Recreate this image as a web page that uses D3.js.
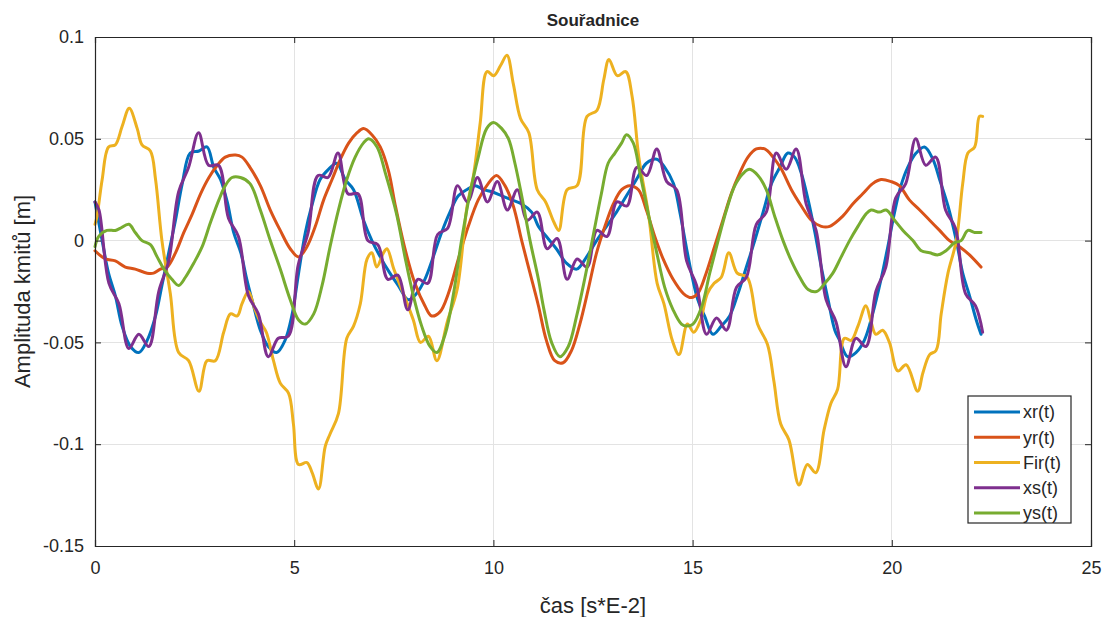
<!DOCTYPE html>
<html>
<head>
<meta charset="utf-8">
<script src="https://cdn.jsdelivr.net/npm/d3@7"></script>
<style>
html,body{margin:0;padding:0;background:#fff;}
svg{display:block;}
text{font-family:"Liberation Sans",Arial,Helvetica,sans-serif;fill:#262626;}
</style>
</head>
<body>
<svg id="chart" width="1107" height="617"></svg>
<script>
// ---- data ----
const xTicks = [0, 5, 10, 15, 20, 25];
const yTicks = [-0.15, -0.1, -0.05, 0, 0.05, 0.1];
const yTickLabels = ["-0.15", "-0.1", "-0.05", "0", "0.05", "0.1"];
const seriesNames = ["xr(t)", "yr(t)", "Fir(t)", "xs(t)", "ys(t)"];
const seriesColors = ["#0072BD", "#D95319", "#EDB120", "#7E2F8E", "#77AC30"];

const xr = [[0,0.019],[0.18,0.000],[0.34,-0.016],[0.51,-0.027],[0.68,-0.042],[0.89,-0.052],[1.10,-0.055],[1.31,-0.049],[1.52,-0.037],[1.68,-0.022],[1.85,-0.006],[2.02,0.010],[2.19,0.028],[2.39,0.043],[2.61,0.044],[2.81,0.046],[2.98,0.036],[3.15,0.030],[3.32,0.019],[3.48,0.004],[3.66,-0.006],[3.81,-0.019],[3.98,-0.032],[4.15,-0.044],[4.35,-0.052],[4.56,-0.055],[4.77,-0.049],[4.94,-0.037],[5.11,-0.016],[5.28,0.004],[5.44,0.017],[5.65,0.030],[5.86,0.035],[6.07,0.038],[6.28,0.030],[6.49,0.025],[6.74,0.010],[6.95,0.000],[7.16,-0.008],[7.37,-0.015],[7.61,-0.022],[7.86,-0.029],[8.07,-0.026],[8.28,-0.019],[8.49,-0.008],[8.70,0.004],[8.91,0.014],[9.12,0.022],[9.33,0.025],[9.54,0.027],[9.75,0.025],[9.96,0.024],[10.21,0.022],[10.46,0.020],[10.71,0.018],[10.96,0.014],[11.13,0.007],[11.33,0.002],[11.58,-0.004],[11.83,-0.011],[12.09,-0.014],[12.34,-0.008],[12.59,0.000],[12.84,0.007],[13.09,0.014],[13.34,0.022],[13.59,0.030],[13.84,0.038],[14.10,0.040],[14.30,0.036],[14.52,0.028],[14.68,0.014],[14.85,-0.004],[14.97,-0.016],[15.13,-0.029],[15.30,-0.037],[15.51,-0.046],[15.72,-0.042],[15.93,-0.037],[16.14,-0.026],[16.35,-0.013],[16.56,0.000],[16.77,0.014],[16.98,0.028],[17.19,0.036],[17.39,0.043],[17.56,0.041],[17.73,0.033],[17.90,0.020],[18.07,0.004],[18.23,-0.013],[18.40,-0.029],[18.57,-0.044],[18.69,-0.049],[18.89,-0.057],[19.10,-0.055],[19.31,-0.049],[19.52,-0.036],[19.73,-0.019],[19.90,-0.003],[20.07,0.014],[20.23,0.027],[20.40,0.036],[20.61,0.043],[20.82,0.046],[21.03,0.040],[21.20,0.030],[21.41,0.017],[21.62,0.000],[21.78,-0.016],[21.95,-0.027],[22.12,-0.039],[22.24,-0.046]];

const yr = [[0,-0.005],[0.26,-0.009],[0.51,-0.010],[0.76,-0.013],[1.01,-0.014],[1.31,-0.016],[1.47,-0.016],[1.64,-0.014],[1.81,-0.013],[2.02,-0.006],[2.23,0.004],[2.44,0.013],[2.65,0.023],[2.86,0.031],[3.07,0.037],[3.27,0.041],[3.53,0.042],[3.69,0.041],[3.89,0.036],[4.15,0.027],[4.40,0.015],[4.65,0.005],[4.90,-0.004],[5.11,-0.008],[5.32,-0.003],[5.53,0.007],[5.74,0.020],[5.95,0.030],[6.16,0.040],[6.37,0.048],[6.58,0.053],[6.74,0.055],[6.95,0.052],[7.16,0.046],[7.37,0.034],[7.53,0.018],[7.78,-0.004],[8.03,-0.021],[8.28,-0.032],[8.45,-0.037],[8.66,-0.035],[8.87,-0.026],[9.12,-0.009],[9.37,0.007],[9.62,0.020],[9.87,0.028],[10.08,0.032],[10.29,0.027],[10.50,0.017],[10.71,0.000],[10.92,-0.016],[11.13,-0.032],[11.33,-0.049],[11.54,-0.059],[11.75,-0.060],[11.96,-0.054],[12.17,-0.041],[12.38,-0.024],[12.59,-0.006],[12.80,0.007],[13.01,0.018],[13.22,0.025],[13.42,0.027],[13.64,0.025],[13.84,0.015],[14.05,0.002],[14.26,-0.009],[14.51,-0.019],[14.77,-0.026],[14.97,-0.028],[15.13,-0.026],[15.34,-0.016],[15.55,-0.003],[15.76,0.010],[15.97,0.023],[16.18,0.033],[16.39,0.041],[16.60,0.045],[16.81,0.045],[17.02,0.041],[17.23,0.035],[17.48,0.025],[17.73,0.017],[17.98,0.010],[18.23,0.007],[18.44,0.007],[18.77,0.012],[19.02,0.018],[19.27,0.023],[19.52,0.028],[19.73,0.030],[19.98,0.029],[20.19,0.027],[20.44,0.020],[20.70,0.015],[20.95,0.010],[21.20,0.005],[21.45,0.000],[21.70,-0.003],[21.95,-0.007],[22.24,-0.013]];

const fir = [[0,0.008],[0.05,0.012],[0.18,0.030],[0.34,0.046],[0.51,0.047],[0.68,0.056],[0.86,0.065],[1.06,0.055],[1.18,0.047],[1.39,0.044],[1.52,0.030],[1.68,0.000],[1.89,-0.026],[2.10,-0.055],[2.35,-0.059],[2.61,-0.074],[2.81,-0.059],[3.02,-0.059],[3.23,-0.045],[3.40,-0.036],[3.57,-0.037],[3.69,-0.031],[3.85,-0.025],[4.00,-0.033],[4.15,-0.040],[4.30,-0.045],[4.48,-0.059],[4.65,-0.070],[4.86,-0.075],[4.98,-0.090],[5.11,-0.110],[5.32,-0.109],[5.45,-0.114],[5.61,-0.122],[5.78,-0.101],[5.90,-0.095],[6.11,-0.085],[6.32,-0.048],[6.49,-0.042],[6.66,-0.031],[6.83,-0.009],[6.95,-0.006],[7.07,-0.013],[7.24,-0.006],[7.33,-0.004],[7.50,-0.014],[7.74,-0.026],[7.99,-0.039],[8.17,-0.050],[8.37,-0.047],[8.58,-0.059],[8.84,-0.040],[9.09,-0.024],[9.34,0.017],[9.50,0.032],[9.67,0.058],[9.84,0.083],[10.01,0.081],[10.18,0.086],[10.34,0.091],[10.50,0.077],[10.68,0.060],[10.89,0.053],[11.10,0.025],[11.31,0.019],[11.52,0.009],[11.64,0.005],[11.85,0.025],[12.10,0.027],[12.35,0.061],[12.60,0.064],[12.77,0.079],[12.90,0.089],[13.11,0.081],[13.32,0.083],[13.48,0.071],[13.65,0.041],[13.90,0.012],[14.11,-0.021],[14.28,-0.031],[14.49,-0.049],[14.66,-0.056],[14.87,-0.041],[15.03,-0.045],[15.20,-0.039],[15.37,-0.026],[15.54,-0.021],[15.72,-0.018],[15.91,-0.006],[16.12,-0.016],[16.37,-0.018],[16.63,-0.041],[16.88,-0.051],[17.04,-0.069],[17.21,-0.090],[17.42,-0.098],[17.67,-0.120],[17.88,-0.110],[18.09,-0.114],[18.30,-0.093],[18.47,-0.080],[18.64,-0.073],[18.81,-0.048],[18.98,-0.049],[19.15,-0.042],[19.35,-0.032],[19.48,-0.040],[19.60,-0.046],[19.77,-0.044],[19.94,-0.050],[20.15,-0.064],[20.36,-0.061],[20.65,-0.074],[20.78,-0.065],[20.95,-0.056],[21.11,-0.054],[21.24,-0.036],[21.41,-0.016],[21.62,0.000],[21.78,0.028],[21.91,0.043],[22.08,0.046],[22.20,0.061],[22.28,0.061]];

const xs = [[0,0.019],[0.10,0.015],[0.35,-0.021],[0.60,-0.031],[0.85,-0.053],[1.10,-0.046],[1.35,-0.052],[1.60,-0.025],[1.85,-0.010],[2.10,0.024],[2.35,0.036],[2.60,0.053],[2.85,0.037],[3.10,0.037],[3.35,0.011],[3.60,0.002],[3.85,-0.027],[4.10,-0.036],[4.35,-0.057],[4.60,-0.048],[4.85,-0.047],[5.10,-0.012],[5.35,0.004],[5.60,0.032],[5.85,0.031],[6.10,0.043],[6.35,0.023],[6.60,0.023],[6.85,0.000],[7.10,-0.002],[7.35,-0.019],[7.60,-0.017],[7.85,-0.034],[8.10,-0.019],[8.35,-0.021],[8.60,0.003],[8.85,0.006],[9.10,0.027],[9.35,0.019],[9.60,0.031],[9.85,0.019],[10.10,0.029],[10.35,0.015],[10.60,0.025],[10.85,0.010],[11.10,0.014],[11.35,-0.004],[11.60,0.001],[11.85,-0.019],[12.10,-0.009],[12.35,-0.013],[12.60,0.005],[12.85,0.002],[13.10,0.019],[13.35,0.017],[13.60,0.036],[13.85,0.032],[14.10,0.045],[14.35,0.029],[14.60,0.025],[14.85,-0.010],[15.10,-0.022],[15.35,-0.046],[15.60,-0.038],[15.85,-0.044],[16.10,-0.023],[16.35,-0.018],[16.60,0.008],[16.85,0.014],[17.10,0.043],[17.35,0.035],[17.60,0.045],[17.85,0.018],[18.10,0.005],[18.35,-0.029],[18.60,-0.040],[18.85,-0.062],[19.10,-0.048],[19.35,-0.052],[19.60,-0.025],[19.85,-0.013],[20.10,0.021],[20.35,0.028],[20.60,0.050],[20.85,0.037],[21.10,0.041],[21.35,0.015],[21.60,0.006],[21.85,-0.026],[22.10,-0.032],[22.28,-0.045]];

const ys = [[0,-0.003],[0.09,0.002],[0.30,0.005],[0.51,0.005],[0.63,0.006],[0.85,0.008],[1.01,0.004],[1.18,0.000],[1.39,-0.002],[1.56,-0.008],[1.73,-0.014],[1.93,-0.019],[2.10,-0.022],[2.27,-0.018],[2.48,-0.011],[2.69,-0.003],[2.90,0.009],[3.11,0.020],[3.27,0.027],[3.44,0.031],[3.65,0.031],[3.89,0.028],[4.15,0.015],[4.40,0.000],[4.65,-0.014],[4.90,-0.029],[5.11,-0.039],[5.28,-0.041],[5.49,-0.036],[5.70,-0.022],[5.90,-0.003],[6.11,0.015],[6.32,0.030],[6.53,0.041],[6.74,0.048],[6.87,0.050],[7.08,0.046],[7.29,0.033],[7.57,0.013],[7.78,-0.008],[7.99,-0.027],[8.20,-0.042],[8.41,-0.052],[8.58,-0.055],[8.79,-0.046],[9.00,-0.026],[9.20,0.000],[9.41,0.023],[9.62,0.041],[9.83,0.055],[10.00,0.058],[10.21,0.055],[10.38,0.050],[10.54,0.038],[10.71,0.022],[10.92,0.000],[11.13,-0.019],[11.27,-0.034],[11.46,-0.050],[11.67,-0.057],[11.88,-0.052],[12.09,-0.037],[12.29,-0.019],[12.50,0.002],[12.71,0.023],[12.88,0.038],[13.05,0.043],[13.22,0.048],[13.34,0.052],[13.51,0.048],[13.68,0.033],[13.89,0.013],[14.10,-0.006],[14.30,-0.023],[14.51,-0.034],[14.72,-0.041],[14.85,-0.042],[15.01,-0.041],[15.22,-0.033],[15.43,-0.016],[15.64,0.000],[15.85,0.015],[16.06,0.027],[16.27,0.033],[16.43,0.035],[16.64,0.032],[16.85,0.025],[17.06,0.012],[17.27,0.000],[17.48,-0.010],[17.69,-0.018],[17.90,-0.024],[18.11,-0.025],[18.32,-0.021],[18.52,-0.016],[18.73,-0.008],[18.94,0.000],[19.15,0.007],[19.35,0.013],[19.48,0.015],[19.69,0.014],[19.86,0.015],[20.07,0.010],[20.28,0.005],[20.53,0.000],[20.74,-0.005],[20.95,-0.006],[21.16,-0.007],[21.36,-0.005],[21.58,-0.001],[21.74,0.000],[21.91,0.005],[22.08,0.004],[22.24,0.004]];

const seriesData = [xr, yr, fir, xs, ys];

// ---- layout ----
const svg = d3.select("#chart");
const L = 95, R = 1091, T = 37, B = 546;
const x = d3.scaleLinear().domain([0, 25]).range([L, R]);
const y = d3.scaleLinear().domain([-0.15, 0.1]).range([B, T]);

// grid
const grid = svg.append("g");
grid.selectAll("line.gx").data(xTicks).join("line")
  .attr("x1", d => x(d)).attr("x2", d => x(d)).attr("y1", T).attr("y2", B)
  .attr("stroke", "#e3e3e3").attr("stroke-width", 1).attr("shape-rendering", "crispEdges");
grid.selectAll("line.gy").data(yTicks).join("line")
  .attr("y1", d => y(d)).attr("y2", d => y(d)).attr("x1", L).attr("x2", R)
  .attr("stroke", "#e3e3e3").attr("stroke-width", 1).attr("shape-rendering", "crispEdges");

// lines
const line = d3.line().x(d => x(d[0])).y(d => y(d[1])).curve(d3.curveCatmullRom.alpha(0.5));
const plot = svg.append("g");
seriesData.forEach((s, i) => {
  plot.append("path").datum(s)
    .attr("d", line)
    .attr("fill", "none")
    .attr("stroke", seriesColors[i])
    .attr("stroke-width", 3)
    .attr("stroke-linejoin", "round")
    .attr("stroke-linecap", "round");
});

// axes (ticks inward, box)
const axisColor = "#262626";
const xAxisB = d3.axisBottom(x).tickValues(xTicks).tickSize(-6).tickPadding(15).tickFormat(d3.format("d"));
const xAxisT = d3.axisTop(x).tickValues(xTicks).tickSize(-6).tickFormat("");
const yAxisL = d3.axisLeft(y).tickValues(yTicks).tickSize(-6).tickPadding(11).tickFormat((d, i) => yTickLabels[i]);
const yAxisR = d3.axisRight(y).tickValues(yTicks).tickSize(-6).tickFormat("");

function styleAxis(g) {
  g.select(".domain").attr("stroke", axisColor).attr("stroke-width", 1.2);
  g.selectAll(".tick line").attr("stroke", axisColor).attr("stroke-width", 1);
  g.selectAll(".tick text").attr("fill", axisColor).style("font-size", "18px")
    .style("font-family", '"Liberation Sans", Arial, sans-serif');
}
svg.append("g").attr("transform", `translate(0,${B})`).call(xAxisB).call(styleAxis);
svg.append("g").attr("transform", `translate(0,${T})`).call(xAxisT).call(styleAxis);
svg.append("g").attr("transform", `translate(${L},0)`).call(yAxisL).call(styleAxis);
svg.append("g").attr("transform", `translate(${R},0)`).call(yAxisR).call(styleAxis);

// title and labels
svg.append("text").attr("x", (L + R) / 2).attr("y", 26).attr("text-anchor", "middle")
  .style("font-size", "17px").style("font-weight", "bold").text("Souřadnice");
svg.append("text").attr("x", (L + R) / 2).attr("y", 613).attr("text-anchor", "middle")
  .style("font-size", "22px").text("čas [s*E-2]");
svg.append("text").attr("transform", `translate(30,${(T + B) / 2}) rotate(-90)`).attr("text-anchor", "middle")
  .style("font-size", "22px").text("Amplituda kmitů [m]");

// legend
const lg = svg.append("g");
const lgX = 968, lgY = 396, lgW = 103, lgH = 127;
lg.append("rect").attr("x", lgX).attr("y", lgY).attr("width", lgW).attr("height", lgH)
  .attr("fill", "#fff").attr("stroke", axisColor).attr("stroke-width", 1.2);
const rowY = d3.scalePoint().domain(seriesNames).range([lgY + 16, lgY + 117]);
seriesNames.forEach((n, i) => {
  const yy = rowY(n);
  lg.append("line").attr("x1", lgX + 6).attr("x2", lgX + 52).attr("y1", yy).attr("y2", yy)
    .attr("stroke", seriesColors[i]).attr("stroke-width", 3);
  lg.append("text").attr("x", lgX + 55).attr("y", yy).attr("dy", "0.36em")
    .style("font-size", "18px").text(n);
});
</script>
</body>
</html>
